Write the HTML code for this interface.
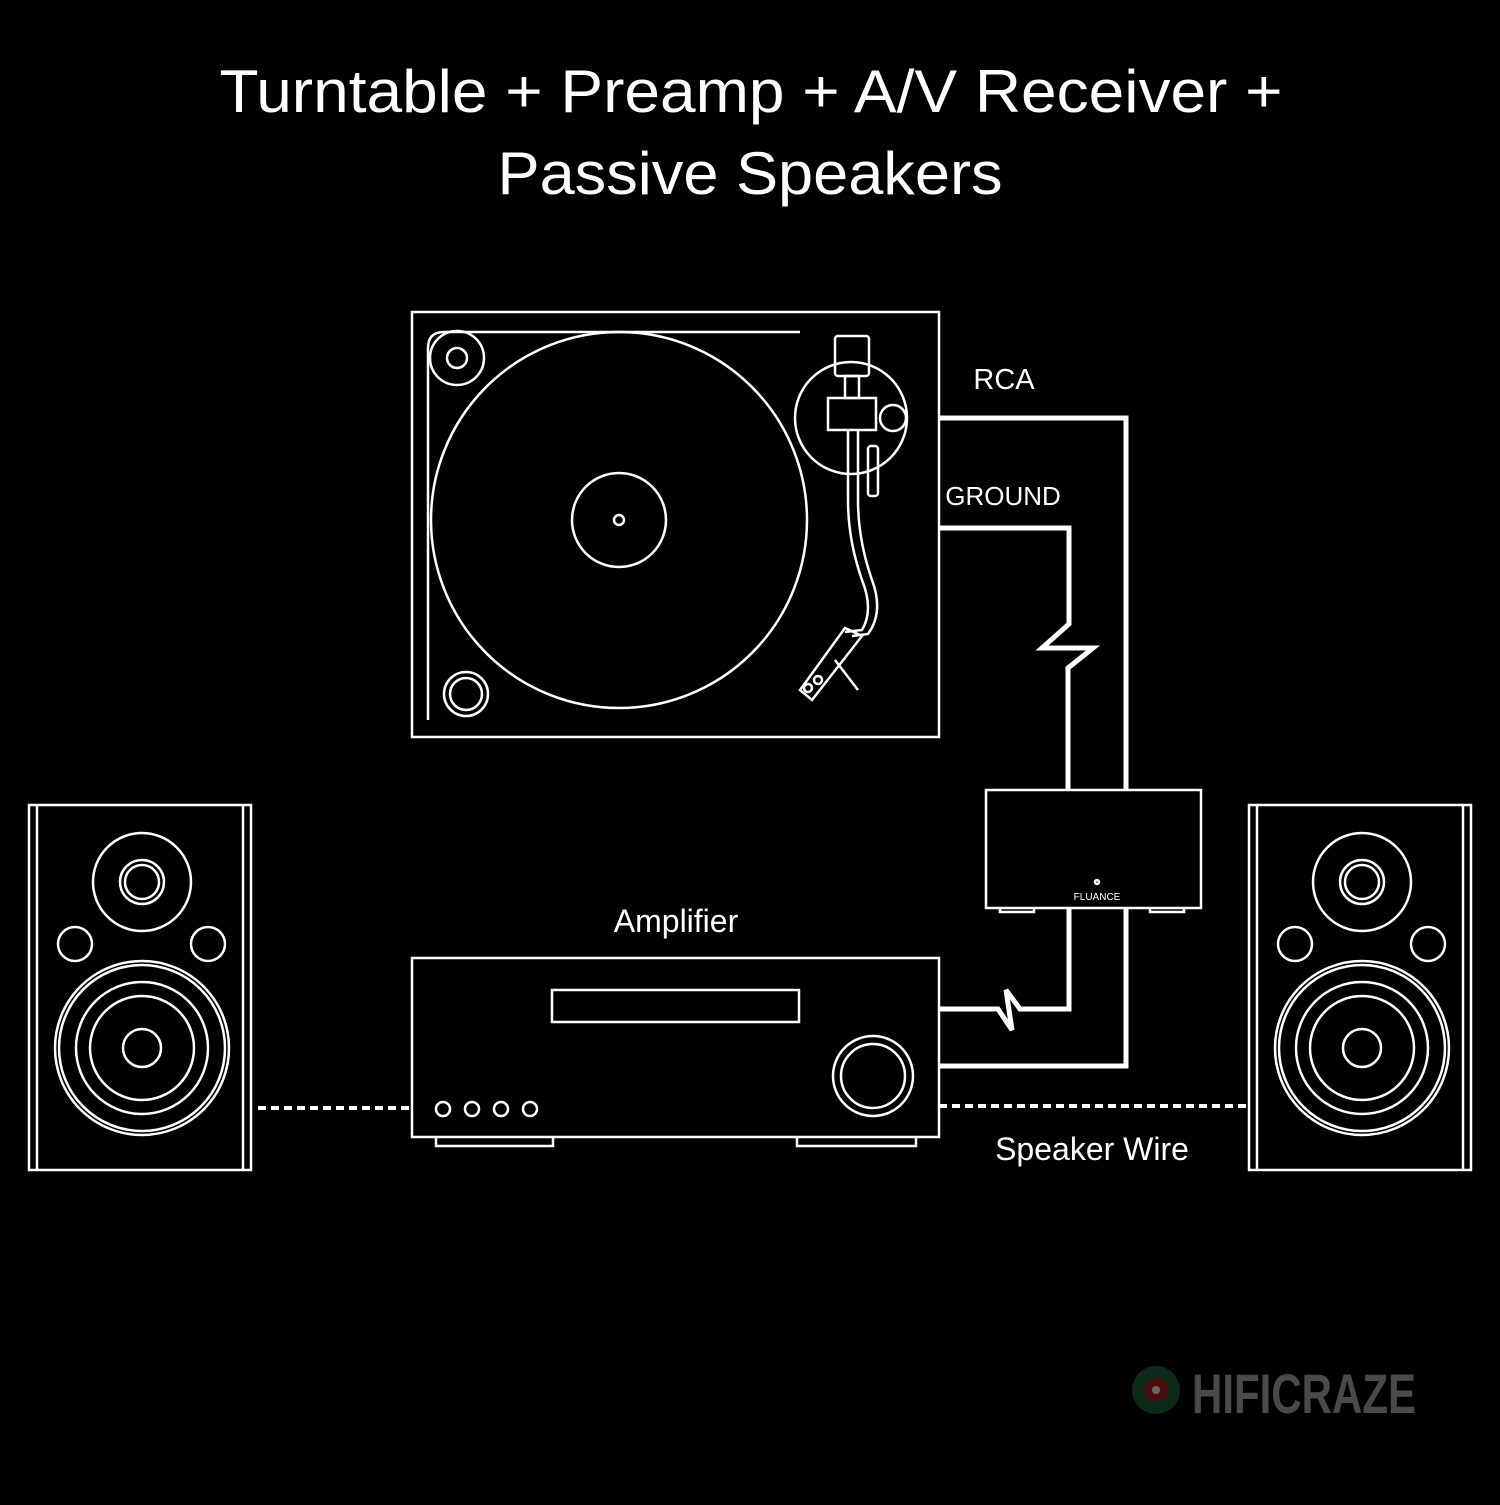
<!DOCTYPE html>
<html><head><meta charset="utf-8"><style>
html,body{margin:0;padding:0;background:#000;}
</style></head><body>
<svg width="1500" height="1500" viewBox="0 0 1500 1500" xmlns="http://www.w3.org/2000/svg">
<rect width="1500" height="1500" fill="#000"/>
<g font-family="Liberation Sans, sans-serif" fill="#fff" text-anchor="middle">
<text x="751" y="112" font-size="60" textLength="1063" lengthAdjust="spacingAndGlyphs">Turntable + Preamp + A/V Receiver +</text>
<text x="750" y="194" font-size="60" textLength="505" lengthAdjust="spacingAndGlyphs">Passive Speakers</text>
<text x="1004" y="389" font-size="29">RCA</text>
<text x="1003" y="505" font-size="26">GROUND</text>
<text x="676" y="932" font-size="32">Amplifier</text>
<text x="1092" y="1160" font-size="32">Speaker Wire</text>
</g>
<g fill="none" stroke="#fff" stroke-width="2.5">
<rect x="412" y="312" width="527" height="425"/>
<path d="M428 720 V348 Q428 332 444 332 H800"/>
<circle cx="619" cy="520" r="188"/>
<circle cx="619" cy="520" r="47"/>
<circle cx="619" cy="520" r="5"/>
<circle cx="457" cy="358" r="27"/>
<circle cx="457" cy="358" r="10"/>
<circle cx="466" cy="694" r="22"/>
<circle cx="466" cy="694" r="16"/>
<circle cx="851" cy="418" r="56"/>
<circle cx="893" cy="418" r="13"/>
<rect x="835" y="336" width="34" height="40" rx="3"/>
<rect x="845" y="376" width="14" height="22"/>
<rect x="828" y="398" width="48" height="32"/>
<rect x="868" y="446" width="10" height="50" rx="3"/>
<path d="M848 430 V500 Q848 540 862 580 Q874 610 862 630 L845 632"/>
<path d="M858 430 V500 Q858 540 872 580 Q884 612 868 634 L852 636"/>
<path d="M845 628 L800 690 L812 700 L862 636 Z"/>
<path d="M835 660 L858 690"/>
<circle cx="808" cy="688" r="4"/><circle cx="818" cy="680" r="4"/>
<g id="spk">
<rect x="29" y="805" width="222" height="365"/>
<line x1="37" y1="805" x2="37" y2="1170"/>
<line x1="243" y1="805" x2="243" y2="1170"/>
<circle cx="142" cy="882" r="49"/>
<circle cx="142" cy="882" r="22"/>
<circle cx="142" cy="882" r="17"/>
<circle cx="75" cy="944" r="17"/>
<circle cx="208" cy="944" r="17"/>
<circle cx="142" cy="1048" r="87"/>
<circle cx="142" cy="1048" r="83"/>
<circle cx="142" cy="1048" r="66"/>
<circle cx="142" cy="1048" r="52"/>
<circle cx="142" cy="1048" r="19"/>
</g>
<use href="#spk" x="1220"/>
<rect x="412" y="958" width="527" height="179"/>
<rect x="552" y="990" width="247" height="32"/>
<circle cx="873" cy="1076" r="40"/>
<circle cx="873" cy="1076" r="32"/>
<circle cx="443" cy="1109" r="7"/><circle cx="472" cy="1109" r="7"/>
<circle cx="501" cy="1109" r="7"/><circle cx="530" cy="1109" r="7"/>
<path d="M436 1137 V1146 H553 V1137"/>
<path d="M797 1137 V1146 H916 V1137"/>
<rect x="986" y="790" width="215" height="118"/>
<path d="M1000 908 V912 H1034 V908"/>
<path d="M1150 908 V912 H1184 V908"/>
<circle cx="1097" cy="882" r="2"/>
</g>
<text x="1097" y="900" font-family="Liberation Sans, sans-serif" font-size="10" fill="#fff" text-anchor="middle">FLUANCE</text>
<g fill="none" stroke="#fff" stroke-width="5">
<path d="M939 418 H1126 V790"/>
<path d="M1126 908 V1066 H939"/>
<path d="M939 528 H1069 V624 L1042 648 H1093 L1068 668 V790"/>
<path d="M1069 908 V1009 H1020 L1006 990 L1012 1030 L998 1009 H939"/>
</g>
<g stroke="#fff" stroke-width="4" stroke-dasharray="8 5">
<line x1="258" y1="1108" x2="412" y2="1108"/>
<line x1="939" y1="1106" x2="1249" y2="1106"/>
</g>
<circle cx="1156" cy="1390" r="24" fill="#0c2a18"/>
<circle cx="1156" cy="1390" r="12" fill="#4a0d0d"/>
<circle cx="1156" cy="1390" r="4" fill="#666"/>
<text x="1192" y="1413" font-family="Liberation Sans, sans-serif" font-weight="bold" font-size="56" fill="#4a4a4a" textLength="224" lengthAdjust="spacingAndGlyphs">HIFICRAZE</text>
</svg>
</body></html>
